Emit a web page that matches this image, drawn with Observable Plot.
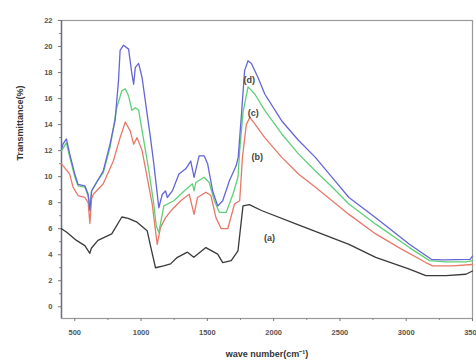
<!DOCTYPE html>
<html>
<head>
<meta charset="utf-8">
<script src="https://cdn.jsdelivr.net/npm/d3@7"></script>
<script src="https://cdn.jsdelivr.net/npm/@observablehq/plot@0.6"></script>
<style>
  html, body { margin: 0; padding: 0; background: #fff; }
  #chart svg { display: block; }
</style>
</head>
<body>
<div id="chart"></div>
<script>
// ---- data ----
const xTicks = [500, 1000, 1500, 2000, 2500, 3000, 3500];
const xMinorTicks = [750, 1250, 1750, 2250, 2750, 3250];
const yTicks = [0, 2, 4, 6, 8, 10, 12, 14, 16, 18, 20, 22];
const yMinorTicks = [1, 3, 5, 7, 9, 11, 13, 15, 17, 19, 21];

const xLabel = "wave number(cm\u207B\u00B9)";
const yLabel = "Transmittance(%)";

// (a) black
const aX = [400, 437, 513, 576, 614, 625, 675, 779, 855, 903, 970, 1046, 1071, 1109, 1170, 1223, 1274, 1350, 1398, 1489, 1578, 1616, 1680, 1731, 1769, 1817, 1908, 2187, 2568, 2770, 3024, 3148, 3300, 3450, 3500];
const aY = [6.0, 5.75, 5.1, 4.7, 4.1, 4.5, 5.1, 5.6, 6.9, 6.8, 6.5, 5.85, 4.7, 3.0, 3.15, 3.3, 3.8, 4.2, 3.8, 4.55, 4.05, 3.4, 3.55, 4.3, 7.75, 7.85, 7.4, 6.3, 4.8, 3.8, 2.9, 2.4, 2.4, 2.5, 2.75];

// (b) red
const bX = [400, 411, 462, 487, 525, 576, 601, 614, 627, 640, 715, 791, 842, 881, 919, 944, 970, 1008, 1046, 1084, 1109, 1122, 1147, 1185, 1236, 1299, 1363, 1400, 1426, 1489, 1527, 1565, 1604, 1654, 1705, 1744, 1765, 1794, 1820, 1858, 1933, 2060, 2187, 2313, 2441, 2568, 2770, 2945, 3148, 3199, 3350, 3500];
const bY = [11.0, 10.85, 10.2, 9.2, 8.55, 8.4, 8.0, 6.4, 8.3, 8.65, 9.45, 11.2, 13.0, 14.2, 13.5, 12.5, 13.0, 12.0, 9.95, 7.9, 5.85, 4.8, 6.1, 6.85, 7.5, 8.15, 8.65, 7.1, 8.4, 8.8, 8.55, 6.85, 6.0, 6.0, 7.9, 8.15, 11.5, 14.0, 14.55, 14.05, 13.0, 11.5, 10.2, 9.2, 8.15, 7.1, 5.6, 4.55, 3.4, 3.15, 3.15, 3.25];

// (c) green
const cX = [400, 437, 462, 500, 525, 576, 601, 614, 627, 665, 715, 766, 817, 855, 881, 906, 931, 957, 982, 1020, 1058, 1096, 1115, 1134, 1172, 1248, 1325, 1388, 1400, 1413, 1476, 1514, 1553, 1591, 1642, 1693, 1731, 1744, 1770, 1807, 1858, 1933, 2060, 2187, 2313, 2441, 2568, 2770, 3024, 3176, 3300, 3450, 3500];
const cY = [12.0, 12.6, 11.5, 10.0, 9.3, 9.2, 8.5, 7.6, 8.9, 9.6, 10.3, 12.25, 15.3, 16.6, 16.75, 16.2, 15.1, 15.3, 15.1, 12.8, 10.5, 7.9, 6.2, 5.7, 7.75, 8.15, 8.9, 9.45, 8.9, 9.55, 9.95, 9.55, 8.15, 7.25, 7.25, 8.65, 9.95, 12.0, 15.0, 16.9, 16.35, 15.1, 13.3, 11.75, 10.45, 9.2, 7.9, 6.35, 4.55, 3.55, 3.45, 3.45, 3.55];

// (d) blue
const dX = [400, 411, 437, 462, 500, 525, 576, 601, 614, 627, 665, 715, 766, 804, 830, 842, 868, 906, 931, 944, 957, 982, 1008, 1046, 1071, 1096, 1122, 1134, 1160, 1185, 1198, 1236, 1286, 1337, 1375, 1400, 1438, 1476, 1502, 1540, 1578, 1616, 1667, 1718, 1733, 1756, 1781, 1807, 1832, 1883, 1933, 2060, 2187, 2313, 2441, 2568, 2770, 3024, 3189, 3278, 3481, 3500];
const dY = [12.1, 12.5, 12.9, 11.75, 10.2, 9.4, 9.3, 8.65, 7.4, 8.9, 9.55, 10.45, 12.5, 14.3, 17.4, 19.7, 20.1, 19.8, 17.9, 17.1, 18.4, 18.7, 17.6, 14.8, 13.0, 11.0, 8.7, 7.6, 8.65, 8.9, 8.4, 8.9, 10.2, 10.6, 11.2, 9.95, 11.6, 11.6, 11.0, 8.9, 7.75, 8.15, 9.7, 10.85, 11.5, 14.6, 18.15, 18.9, 18.7, 17.6, 16.35, 14.3, 12.8, 11.5, 9.95, 8.4, 6.85, 4.8, 3.65, 3.6, 3.65, 3.9];

const seriesNames = ["(a)", "(b)", "(c)", "(d)"];
const seriesColors = ["#3a3a3a", "#e8786a", "#5fd078", "#6466d8"];
const labelX = [1969, 1877, 1847, 1817];
const labelY = [5.3, 11.5, 14.9, 17.4];

// ---- build tables ----
const allX = [aX, bX, cX, dX];
const allY = [aY, bY, cY, dY];
const rows = [];
seriesNames.forEach((s, i) => {
  allX[i].forEach((x, j) => rows.push({series: s, x, y: allY[i][j]}));
});
const labels = seriesNames.map((s, i) => ({series: s, x: labelX[i], y: labelY[i]}));

const chart = Plot.plot({
  width: 476,
  height: 363,
  marginLeft: 61,
  marginRight: 4,
  marginTop: 20,
  marginBottom: 45,
  style: {fontFamily: "'Liberation Sans', Arial, sans-serif", background: "#fff", overflow: "hidden"},
  x: {domain: [400, 3500]},
  y: {domain: [-0.9, 22]},
  color: {domain: seriesNames, range: seriesColors},
  marks: [
    Plot.frame({stroke: "#999", strokeWidth: 1.2}),
    Plot.axisX(xTicks, {tickSize: 3, tickPadding: 8, fontSize: 7.5, fontWeight: "bold", fill: "#555", stroke: "#777", tickFormat: d => String(d), label: null}),
    Plot.axisX(xMinorTicks, {tickSize: 2, stroke: "#888", tickFormat: () => "", label: null}),
    Plot.axisY(yTicks, {tickSize: 3, tickPadding: 6, fontSize: 7.5, fontWeight: "bold", fill: "#555", stroke: "#777", tickFormat: d => String(d), label: null}),
    Plot.axisY(yMinorTicks, {tickSize: 2, stroke: "#888", tickFormat: () => "", label: null}),
    Plot.ruleX([400], {stroke: "#6a6a8a", strokeWidth: 1.4}),
    Plot.line(rows, {x: "x", y: "y", z: "series", stroke: "series", strokeWidth: 1.3, curve: "linear"}),
    Plot.text(labels, {x: "x", y: "y", text: "series", fontSize: 9, fontWeight: "bold", fill: "#444"}),
    Plot.text([yLabel], {frameAnchor: "left", dx: -41, dy: -9, rotate: -90, text: d => d, fontSize: 9, fontWeight: "bold", fill: "#333"}),
    Plot.text([xLabel], {frameAnchor: "bottom", dy: 38, text: d => d, fontSize: 9, fontWeight: "bold", fill: "#333"})
  ]
});
document.getElementById("chart").appendChild(chart);
</script>
</body>
</html>
